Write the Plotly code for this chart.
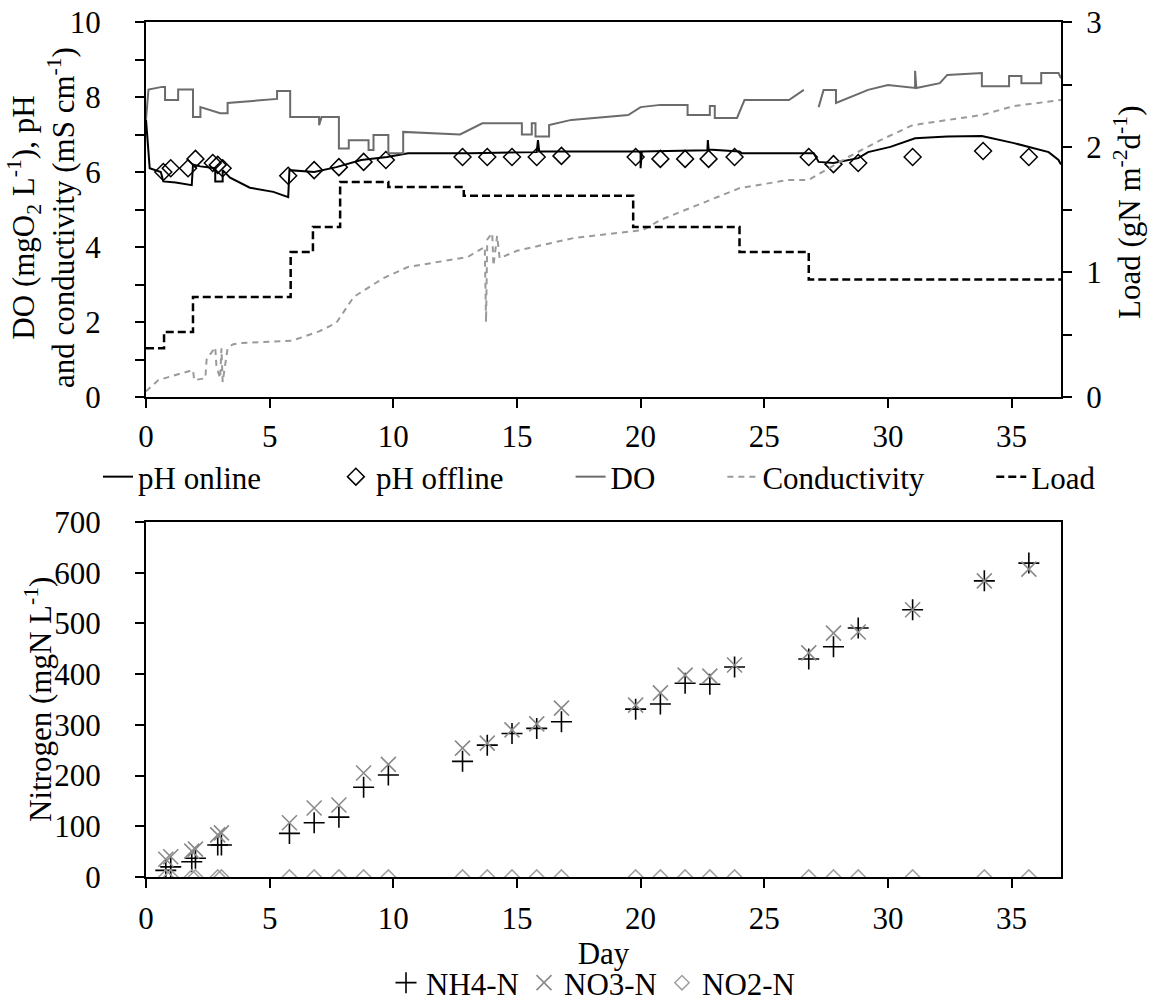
import plotly.graph_objects as go

FONT = "Liberation Serif, Times New Roman, serif"
FS = 31
W, H = 1152, 1006
NB = "\u00a0"

# ---------------- top chart data ----------------
ph_online_day = [0, 0.15, 0.6, 0.7, 1.2, 1.85, 1.9, 2.2, 2.8, 2.8, 3.1, 3.1, 3.4, 4.2, 5.15, 5.75, 5.8,
                 6.8, 7.7, 8.7, 9.75, 10.6, 13.1, 15.8, 15.85, 15.9, 20.0, 20.0, 20.05, 22.7, 22.72,
                 22.75, 24.0, 24.1, 27.0, 27.2, 27.8, 28.8, 29.2, 30.1, 31.1, 32.4, 33.8, 35.1, 36.5,
                 36.9, 37.0]
ph_online_val = [7.4, 6.1, 6.0, 5.75, 5.72, 5.65, 6.2, 6.15, 6.1, 5.75, 5.75, 6.05, 5.85, 5.58, 5.47,
                 5.33, 6.05, 6.0, 6.13, 6.32, 6.4, 6.5, 6.5, 6.53, 6.85, 6.55, 6.55, 6.1, 6.55, 6.58,
                 6.85, 6.6, 6.55, 6.5, 6.5, 6.27, 6.24, 6.37, 6.53, 6.67, 6.9, 6.95, 6.96, 6.77, 6.53,
                 6.32, 6.2]

ph_offline_day = [0.7, 1.0, 1.7, 2.0, 2.7, 2.9, 3.1, 5.75, 6.8, 7.8, 8.8, 9.7, 12.8, 13.8, 14.8, 15.8,
                  16.8, 19.8, 20.8, 21.8, 22.75, 23.8, 26.8, 27.8, 28.8, 31.0, 33.85, 35.7]
ph_offline_val = [6.0, 6.1, 6.1, 6.35, 6.24, 6.19, 6.1, 5.9, 6.05, 6.13, 6.27, 6.32, 6.4, 6.4, 6.4,
                  6.4, 6.43, 6.4, 6.35, 6.35, 6.35, 6.4, 6.4, 6.21, 6.24, 6.4, 6.56, 6.4]

do_day = [0, 0.1, 0.65, 0.77, 0.77, 1.3, 1.3, 1.9, 1.9, 2.2, 2.2, 3.0, 3.3, 3.3, 5.3, 5.3, 5.83, 5.83,
          7.0, 7.0, 7.1, 7.8, 7.8, 8.2, 8.2, 9.0, 9.0, 9.2, 9.2, 9.8, 9.8, 10.4, 10.4, 12.7, 13.6,
          15.2, 15.2, 15.6, 15.6, 15.75, 15.75, 16.3, 16.3, 17.2, 19.5, 20.0, 20.8, 21.9, 21.9, 22.8,
          22.8, 23.0, 23.0, 23.9, 24.2, 26.0, 26.6, None, 27.2, 27.4, 27.9, 27.9, 29.2, 30.0, 31.1,
          31.1, 31.15, 32.1, 32.4, 33.8, 33.8, 34.9, 34.9, 35.4, 35.4, 36.2, 36.2, 36.9, 37.0]
do_val = [7.4, 8.2, 8.27, 8.27, 7.92, 7.92, 8.2, 8.2, 7.47, 7.47, 7.73, 7.57, 7.57, 7.84, 7.95, 8.16,
          8.16, 7.47, 7.47, 7.25, 7.47, 7.47, 6.63, 6.63, 6.85, 6.85, 6.59, 6.59, 6.99, 6.99, 6.5,
          6.5, 7.07, 7.0, 7.3, 7.3, 7.0, 7.0, 7.3, 7.3, 6.95, 6.95, 7.25, 7.39, 7.52, 7.73, 7.79,
          7.79, 7.52, 7.52, 7.76, 7.76, 7.44, 7.44, 7.92, 7.92, 8.19, None, 7.73, 8.19, 8.19, 7.84,
          8.19, 8.32, 8.24, 8.7, 8.24, 8.37, 8.59, 8.64, 8.29, 8.29, 8.56, 8.56, 8.37, 8.37, 8.64,
          8.64, 8.5]

cond_day = [0, 0.5, 1.0, 1.9, 1.95, 2.4, 2.45, 2.8, 2.85, 3.0, 3.05, 3.1, 3.3, 3.5, 3.8, 5.9, 7.0,
            7.7, 8.4, 9.6, 10.6, 13.0, 13.7, 13.75, 13.8, 14.0, 14.05, 14.2, 14.3, 15.0, 17.3, 20.1,
            20.8, 24.0, 26.0, 26.8, 28.4, 29.7, 31.0, 33.8, 35.1, 37.0]
cond_val = [0.15, 0.45, 0.55, 0.72, 0.45, 0.5, 1.0, 1.33, 0.8, 0.5, 1.3, 0.4, 1.3, 1.4, 1.44, 1.5,
            1.75, 1.98, 2.67, 3.17, 3.47, 3.73, 4.0, 2.0, 4.2, 4.37, 3.5, 4.3, 3.7, 3.9, 4.24, 4.45,
            4.72, 5.57, 5.79, 5.79, 6.4, 6.85, 7.25, 7.52, 7.76, 7.92]

load_day = [0, 0.73, 1.9, 5.85, 6.75, 7.85, 9.8, 12.85, 19.7, 24.0, 26.8, 37.0]
load_val = [0.39, 0.52, 0.80, 1.16, 1.36, 1.72, 1.68, 1.61, 1.36, 1.16, 0.94, 0.94]

# ---------------- bottom chart data ----------------
n_day = [0.8, 1.0, 1.85, 2.0, 2.9, 3.05, 5.8, 6.8, 7.8, 8.8, 9.8, 12.8, 13.8, 14.8, 15.8, 16.8,
         19.8, 20.8, 21.8, 22.8, 23.8, 26.8, 27.8, 28.8, 31.0, 33.9, 35.7]
nh4 = [13, 20, 30, 37, 63, 63, 86, 107, 118, 177, 201, 228, 260, 283, 293, 306, 331, 341, 382, 380,
       414, 430, 454, 491, 527, 584, 619]
no3 = [35, 40, 51, 55, 83, 87, 107, 136, 142, 205, 222, 254, 264, 290, 302, 333, 339, 363, 398, 396,
       418, 442, 481, 483, 527, 584, 607]
no2 = [0, 0, 0, 0, 0, 0, 0, 0, 0, 0, 0, 0, 0, 0, 0, 0, 0, 0, 0, 0, 0, 0, 0, 0, 0, 0, 0]

fig = go.Figure()

fig.add_trace(go.Scatter(x=ph_online_day, y=ph_online_val, mode="lines", name="pH online" + NB * 9,
                         line=dict(color="black", width=2), xaxis="x", yaxis="y"))
fig.add_trace(go.Scatter(x=ph_offline_day, y=ph_offline_val, mode="markers", name="pH offline" + NB * 8,
                         marker=dict(symbol="diamond-open", size=13, color="black",
                                     line=dict(width=1.5, color="black")), xaxis="x", yaxis="y"))
fig.add_trace(go.Scatter(x=do_day, y=do_val, mode="lines", name="DO" + NB * 8, connectgaps=False,
                         line=dict(color="#6b6b6b", width=2), xaxis="x", yaxis="y"))
fig.add_trace(go.Scatter(x=cond_day, y=cond_val, mode="lines", name="Conductivity" + NB * 8,
                         line=dict(color="#9a9a9a", width=2, dash="6px,5px"), xaxis="x", yaxis="y"))
fig.add_trace(go.Scatter(x=load_day, y=load_val, mode="lines", name="Load", line_shape="hv",
                         line=dict(color="black", width=2.5, dash="8px,4px"), xaxis="x", yaxis="y2"))

fig.add_trace(go.Scatter(x=n_day, y=nh4, mode="markers", name="NH4-N", legend="legend2",
                         marker=dict(symbol="cross-thin-open", size=15, color="black",
                                     line=dict(width=1.6, color="black")), xaxis="x2", yaxis="y5"))
fig.add_trace(go.Scatter(x=n_day, y=no3, mode="markers", name="NO3-N", legend="legend2",
                         marker=dict(symbol="x-thin-open", size=15, color="#8a8a8a",
                                     line=dict(width=1.6, color="#8a8a8a")), xaxis="x2", yaxis="y5"))
fig.add_trace(go.Scatter(x=n_day, y=no2, mode="markers", name="NO2-N", legend="legend2",
                         marker=dict(symbol="diamond-open", size=11, color="#a0a0a0",
                                     line=dict(width=1.5, color="#a0a0a0")), xaxis="x2", yaxis="y5"))

XD = [146 / W, 1061 / W]
TOP = [1 - 397 / H, 1 - 22 / H]
BOT = [1 - 877 / H, 1 - 522 / H]
tf = dict(family=FONT, size=FS, color="black")
TL = 9

base = dict(showgrid=False, zeroline=False, tickfont=tf, ticklen=TL, tickwidth=2, tickcolor="black",
            automargin=False)


def title_ann(text, x, y):
    return dict(text=text, xref="paper", yref="paper", x=x / W, y=1 - y / H, xanchor="center",
                yanchor="middle", textangle=-90, showarrow=False, font=tf, align="center")


fig.update_layout(
    width=W, height=H, margin=dict(l=0, r=0, t=0, b=0, autoexpand=False),
    paper_bgcolor="white", plot_bgcolor="white", font=tf,
    xaxis=dict(**base, domain=XD, anchor="y", range=[0, 37], dtick=5, tick0=0, ticks="outside",
               showline=True, linecolor="black", linewidth=2, mirror=True, ticklabelstandoff=2),
    yaxis=dict(**base, domain=TOP, anchor="x", range=[0, 10], dtick=2, ticks="outside",
               showline=True, linecolor="black", linewidth=2, ticklabelstandoff=28,
               minor=dict(dtick=1, ticks="outside", ticklen=TL, tickwidth=2, tickcolor="black")),
    yaxis2=dict(**base, overlaying="y", anchor="x", side="right", range=[0, 3], dtick=1,
                ticks="outside", showline=True, linecolor="black", linewidth=2, ticklabelstandoff=8,
                minor=dict(dtick=0.5, ticks="outside", ticklen=TL, tickwidth=2, tickcolor="black")),
    xaxis3=dict(**base, overlaying="x", anchor="y", range=[0, 37], dtick=5, tick0=0, ticks="inside",
                showticklabels=False, showline=False),
    yaxis3=dict(**base, overlaying="y", anchor="x", range=[0, 10], dtick=2, ticks="inside",
                showticklabels=False, showline=False,
                minor=dict(dtick=1, ticks="inside", ticklen=TL, tickwidth=2, tickcolor="black")),
    yaxis4=dict(**base, overlaying="y", anchor="x", side="right", range=[0, 3], dtick=1,
                ticks="inside", showticklabels=False, showline=False,
                minor=dict(dtick=0.5, ticks="inside", ticklen=TL, tickwidth=2, tickcolor="black")),
    xaxis2=dict(**base, domain=XD, anchor="y5", range=[0, 37], dtick=5, tick0=0, ticks="outside",
                showline=True, linecolor="black", linewidth=2, mirror=True, ticklabelstandoff=4,
                title=dict(text="Day", font=tf, standoff=0)),
    yaxis5=dict(**base, domain=BOT, anchor="x2", range=[0, 700], dtick=100, ticks="outside",
                showline=True, linecolor="black", linewidth=2, mirror=True, ticklabelstandoff=28),
    xaxis4=dict(**base, overlaying="x2", anchor="y5", range=[0, 37], dtick=5, tick0=0,
                ticks="inside", showticklabels=False, showline=False),
    yaxis6=dict(**base, overlaying="y5", anchor="x2", range=[0, 700], dtick=100, ticks="inside",
                showticklabels=False, showline=False),
    legend=dict(orientation="h", x=98 / W, xanchor="left", y=1 - 477 / H, yanchor="middle",
                font=dict(family=FONT, size=FS, color="black"), bgcolor="rgba(0,0,0,0)",
                itemwidth=30, tracegroupgap=0),
    legend2=dict(orientation="h", x=386 / W, xanchor="left", y=-0.004, yanchor="bottom",
                 font=dict(family=FONT, size=FS, color="black"), bgcolor="rgba(0,0,0,0)",
                 itemwidth=30, tracegroupgap=0),
    annotations=[
        title_ann("DO (mgO<sub>2</sub> L<sup>-1</sup>), pH<br>and conductivity (mS cm<sup>-1</sup>)", 41, 218),
        title_ann("Nitrogen (mgN L<sup>-1</sup>)", 38, 700),
        title_ann("Load (gN m<sup>-2</sup>d<sup>-1</sup>)", 1127, 212),
    ],
)

fig.write_html("out.html", config={"displayModeBar": False},
               post_script="document.body.style.margin='0px';document.body.style.overflow='hidden';")
